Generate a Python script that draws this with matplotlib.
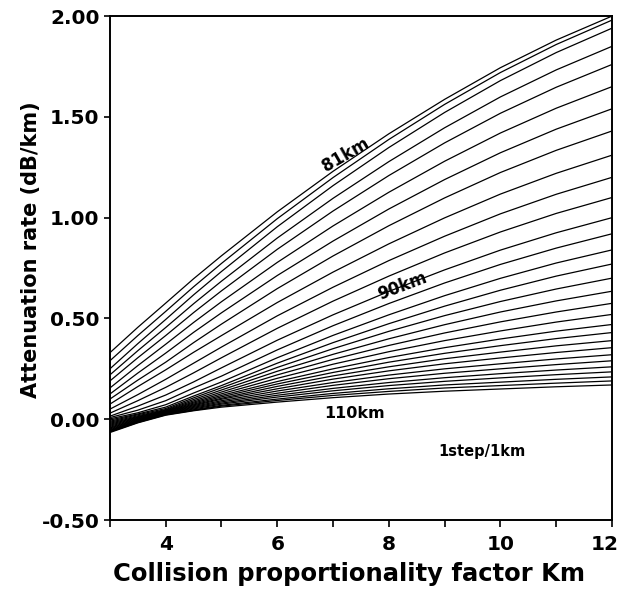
import numpy as np
import matplotlib
matplotlib.use('Agg')
import matplotlib.pyplot as plt
import matplotlib.transforms as mtransforms

plt.rcParams['font.family'] = ['DejaVu Sans']

# altitude of each curve (km), 1 step / 1 km
altitudes = list(range(81, 111))

km_points = [3, 3.5, 4, 4.5, 5, 6, 7, 8, 9, 10, 11, 12]

# attenuation rate (dB/km) read at each Km column, curves 81km .. 110km
att_km3 = [0.33, 0.29, 0.25, 0.22, 0.19, 0.155, 0.125, 0.10, 0.075, 0.05,
           0.03, 0.015, 0.008, 0.002, -0.004, -0.01, -0.015, -0.02, -0.025, -0.03,
           -0.035, -0.04, -0.044, -0.048, -0.052, -0.055, -0.058, -0.061, -0.063, -0.066]
att_km3_5 = [0.456, 0.415, 0.375, 0.34, 0.305, 0.266, 0.229, 0.194, 0.162, 0.122,
             0.092, 0.065, 0.045, 0.032, 0.026, 0.022, 0.017, 0.013, 0.010, 0.007,
             0.004, 0.001, -0.002, -0.005, -0.008, -0.010, -0.012, -0.014, -0.016, -0.018]
att_km4 = [0.576, 0.535, 0.495, 0.455, 0.415, 0.372, 0.328, 0.283, 0.245, 0.198,
           0.158, 0.120, 0.092, 0.072, 0.060, 0.053, 0.048, 0.045, 0.042, 0.040,
           0.038, 0.036, 0.034, 0.032, 0.030, 0.028, 0.026, 0.024, 0.022, 0.020]
att_km4_5 = [0.697, 0.657, 0.617, 0.573, 0.529, 0.480, 0.431, 0.380, 0.332, 0.278,
             0.230, 0.185, 0.155, 0.130, 0.115, 0.106, 0.098, 0.091, 0.085, 0.080,
             0.075, 0.071, 0.067, 0.063, 0.059, 0.055, 0.051, 0.047, 0.044, 0.042]
att_km5 = [0.811, 0.773, 0.733, 0.685, 0.637, 0.583, 0.528, 0.472, 0.415, 0.358,
           0.305, 0.255, 0.214, 0.185, 0.167, 0.156, 0.145, 0.135, 0.126, 0.118,
           0.111, 0.104, 0.099, 0.092, 0.086, 0.080, 0.075, 0.069, 0.065, 0.060]
att_km6 = [1.029, 0.995, 0.955, 0.899, 0.843, 0.778, 0.713, 0.648, 0.579, 0.513,
           0.451, 0.392, 0.344, 0.305, 0.278, 0.257, 0.238, 0.220, 0.203, 0.187,
           0.175, 0.163, 0.151, 0.140, 0.129, 0.119, 0.110, 0.100, 0.093, 0.085]
att_km7 = [1.230, 1.199, 1.159, 1.096, 1.033, 0.959, 0.884, 0.810, 0.730, 0.655,
           0.586, 0.518, 0.464, 0.416, 0.380, 0.350, 0.322, 0.297, 0.273, 0.250,
           0.232, 0.215, 0.199, 0.182, 0.168, 0.153, 0.141, 0.128, 0.118, 0.107]
att_km8 = [1.416, 1.388, 1.348, 1.278, 1.209, 1.126, 1.043, 0.960, 0.870, 0.787,
           0.710, 0.634, 0.574, 0.518, 0.474, 0.436, 0.399, 0.366, 0.335, 0.306,
           0.283, 0.260, 0.240, 0.219, 0.201, 0.182, 0.167, 0.151, 0.138, 0.125]
att_km9 = [1.587, 1.562, 1.522, 1.446, 1.371, 1.280, 1.189, 1.098, 0.999, 0.908,
           0.825, 0.741, 0.676, 0.613, 0.561, 0.514, 0.469, 0.428, 0.390, 0.355,
           0.327, 0.300, 0.275, 0.250, 0.228, 0.206, 0.188, 0.170, 0.155, 0.139]
att_km10 = [1.744, 1.720, 1.680, 1.599, 1.518, 1.420, 1.322, 1.224, 1.117, 1.019,
            0.929, 0.839, 0.768, 0.699, 0.640, 0.584, 0.532, 0.483, 0.438, 0.398,
            0.365, 0.333, 0.304, 0.275, 0.250, 0.226, 0.205, 0.184, 0.167, 0.150]
att_km11 = [1.881, 1.859, 1.819, 1.733, 1.647, 1.543, 1.439, 1.334, 1.220, 1.116,
            1.021, 0.925, 0.849, 0.775, 0.710, 0.646, 0.587, 0.532, 0.482, 0.437,
            0.400, 0.364, 0.331, 0.299, 0.271, 0.244, 0.221, 0.198, 0.179, 0.161]
att_km12 = [2.00, 1.98, 1.94, 1.85, 1.76, 1.65, 1.54, 1.43, 1.31, 1.20,
            1.10, 1.00, 0.92, 0.84, 0.77, 0.70, 0.635, 0.575, 0.52, 0.47,
            0.43, 0.39, 0.355, 0.32, 0.29, 0.26, 0.235, 0.21, 0.19, 0.17]

att = np.array([att_km3, att_km3_5, att_km4, att_km4_5, att_km5, att_km6,
                att_km7, att_km8, att_km9, att_km10, att_km11, att_km12])

fig = plt.figure(figsize=(6.21, 5.96), dpi=100)
ax = fig.add_axes([0.177, 0.1275, 0.8085, 0.8455])

for i, alt in enumerate(altitudes):
    ax.plot(km_points, att[:, i], color='black', linewidth=0.9)

ax.set_xlim(3, 12)
ax.set_ylim(-0.5, 2.0)
ax.set_xticks([4, 6, 8, 10, 12])
ax.set_xticks([3, 5, 7, 9, 11], minor=True)
ax.set_yticks([-0.5, 0.0, 0.5, 1.0, 1.5, 2.0])
ax.set_yticklabels(['-0.50', '0.00', '0.50', '1.00', '1.50', '2.00'])

for sp in ax.spines.values():
    sp.set_linewidth(1.4)
ax.tick_params(axis='both', which='both', direction='out', width=1.2,
               labelsize=14.5)
ax.tick_params(axis='x', which='both', length=5, pad=6)
ax.tick_params(axis='y', which='major', length=4.5, pad=3)
for lab in ax.get_xticklabels() + ax.get_yticklabels():
    lab.set_fontweight('bold')

# keep "12" inside the figure, like the original
last = ax.xaxis.get_major_ticks()[-1].label1
last.set_transform(last.get_transform() +
                   mtransforms.ScaledTranslation(-5 / 72, 0, fig.dpi_scale_trans))

ax.set_xlabel('Collision proportionality factor Km', fontsize=17.5,
              fontweight='bold')
ax.xaxis.set_label_coords(0.476, -0.083)
ax.set_ylabel('Attenuation rate (dB/km)', fontsize=15, fontweight='bold')
ax.yaxis.set_label_coords(-0.137, 0.536)

# curve labels
ax.text(7.22, 1.31, '81km', fontsize=12, fontweight='bold', rotation=30,
        ha='center', va='center')
ax.text(8.24, 0.66, '90km', fontsize=12, fontweight='bold', rotation=21,
        ha='center', va='center')
ax.text(7.39, 0.03, '110km', fontsize=11.5, fontweight='bold',
        ha='center', va='center')
ax.text(9.67, -0.16, '1step/1km', fontsize=10.5, fontweight='bold',
        ha='center', va='center')

fig.savefig('out.png', dpi=100)
